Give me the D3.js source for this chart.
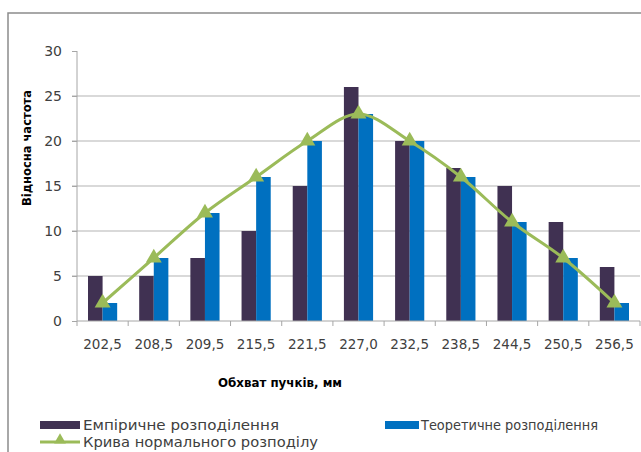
<!DOCTYPE html>
<html><head><meta charset="utf-8">
<script src="https://cdn.jsdelivr.net/npm/d3@7"></script>
<style>html,body{margin:0;padding:0;background:#fff;}svg{display:block;}</style>
</head><body>
<svg id="c" width="641" height="452"></svg>
<script>
const categories = ["202,5","208,5","209,5","215,5","221,5","227,0","232,5","238,5","244,5","250,5","256,5"];
const empirical = [5,5,7,10,15,26,20,17,15,11,6];
const theoretical = [2,7,12,16,20,23,20,16,11,7,2];
const normalCurve = [2,7,12,16,20,23,20,16,11,7,2];
const yTicks = [0,5,10,15,20,25,30];
const seriesNames = ["Емпіричне розподілення","Теоретичне розподілення","Крива нормального розподілу"];
const colors = {emp:"#403152", theo:"#0070C0", curve:"#9BBB59"};

const svg = d3.select("#c");
const font = "'DejaVu Sans', sans-serif";
const pL = 77, pR = 640, pT = 51, pB = 321;

// outer frame
svg.append("path").attr("d","M8,452 L8,13 L641,13").attr("fill","none").attr("stroke","#8c8c8c").attr("stroke-width",1.5);

const x = d3.scaleBand().domain(categories).range([pL,pR]).paddingInner(0).paddingOuter(0);
const y = d3.scaleLinear().domain([0,30]).range([pB,pT]);
const barW = x.bandwidth()*0.285;

// gridlines
svg.append("g").selectAll("line").data(yTicks.filter(t=>t>0 && t<30)).join("line")
  .attr("x1",pL-5).attr("x2",pR).attr("y1",d=>y(d)).attr("y2",d=>y(d))
  .attr("stroke","#b3b3b3").attr("stroke-width",1);

// y axis
const ya = svg.append("g").attr("transform",`translate(${pL},0)`).call(d3.axisLeft(y).tickValues(yTicks).tickSize(5).tickFormat(d=>d));
ya.select(".domain").attr("stroke","#a6a6a6").attr("d",`M0,${pT}V${pB}`);
ya.selectAll(".tick line").attr("stroke","#a6a6a6");
ya.selectAll(".tick text").attr("font-family",font).attr("font-size",14).attr("fill","#404040").attr("x",-15);

// bars
const g = svg.append("g");
g.selectAll("rect.e").data(categories).join("rect").attr("class","e")
  .attr("x",d=>x(d)+x.bandwidth()/2-barW).attr("width",barW)
  .attr("y",(d,i)=>y(empirical[i])).attr("height",(d,i)=>y(0)-y(empirical[i]))
  .attr("fill",colors.emp);
g.selectAll("rect.t").data(categories).join("rect").attr("class","t")
  .attr("x",d=>x(d)+x.bandwidth()/2).attr("width",barW)
  .attr("y",(d,i)=>y(theoretical[i])).attr("height",(d,i)=>y(0)-y(theoretical[i]))
  .attr("fill",colors.theo);

// x axis
const xa = svg.append("g").attr("transform",`translate(0,${pB})`)
  .call(d3.axisBottom(x).tickSize(0).tickFormat(d=>d));
xa.select(".domain").attr("stroke","#a6a6a6").attr("d",`M${pL},0H${pR}`);
xa.selectAll(".tick text").attr("font-family",font).attr("font-size",13.5).attr("fill","#404040").attr("dy","1.85em");
svg.append("g").selectAll("line").data(d3.range(categories.length+1)).join("line")
  .attr("x1",i=>pL+i*x.bandwidth()).attr("x2",i=>pL+i*x.bandwidth())
  .attr("y1",pB).attr("y2",pB+5).attr("stroke","#a6a6a6");

// curve
const line = d3.line().x((d,i)=>x(categories[i])+x.bandwidth()/2).y(d=>y(d)).curve(d3.curveCatmullRom.alpha(0.5));
svg.append("path").datum(normalCurve).attr("d",line).attr("fill","none").attr("stroke",colors.curve).attr("stroke-width",3);
const tri = d3.symbol().type(d3.symbolTriangle).size(110);
svg.append("g").selectAll("path").data(normalCurve).join("path")
  .attr("d",tri).attr("fill",colors.curve)
  .attr("transform",(d,i)=>`translate(${x(categories[i])+x.bandwidth()/2},${y(d)})`);

// axis titles
svg.append("text").attr("transform","translate(31,148) rotate(-90)").attr("text-anchor","middle")
  .attr("font-family",font).attr("font-weight","bold").attr("font-size",13).attr("fill","#000")
  .attr("textLength",116).attr("lengthAdjust","spacingAndGlyphs").text("Відносна частота");
svg.append("text").attr("x",280).attr("y",387).attr("text-anchor","middle")
  .attr("font-family",font).attr("font-weight","bold").attr("font-size",13).attr("fill","#000")
  .attr("textLength",124).attr("lengthAdjust","spacingAndGlyphs").text("Обхват пучків, мм");

// legend
const lg = svg.append("g");
lg.append("rect").attr("x",40).attr("y",421).attr("width",40).attr("height",8).attr("fill",colors.emp);
lg.append("text").attr("x",83).attr("y",430).attr("font-family",font).attr("font-size",13.5).attr("fill","#404040")
  .attr("textLength",196).attr("lengthAdjust","spacingAndGlyphs").text(seriesNames[0]);
lg.append("rect").attr("x",385).attr("y",421).attr("width",34).attr("height",8).attr("fill",colors.theo);
lg.append("text").attr("x",421).attr("y",430).attr("font-family",font).attr("font-size",13.5).attr("fill","#404040")
  .attr("textLength",177).attr("lengthAdjust","spacingAndGlyphs").text(seriesNames[1]);
lg.append("line").attr("x1",40).attr("x2",80).attr("y1",442).attr("y2",442).attr("stroke",colors.curve).attr("stroke-width",3);
lg.append("path").attr("d",d3.symbol().type(d3.symbolTriangle).size(60)).attr("fill",colors.curve).attr("transform","translate(60,440)");
lg.append("text").attr("x",83).attr("y",447).attr("font-family",font).attr("font-size",13.5).attr("fill","#404040")
  .attr("textLength",235).attr("lengthAdjust","spacingAndGlyphs").text(seriesNames[2]);
</script>
</body></html>
